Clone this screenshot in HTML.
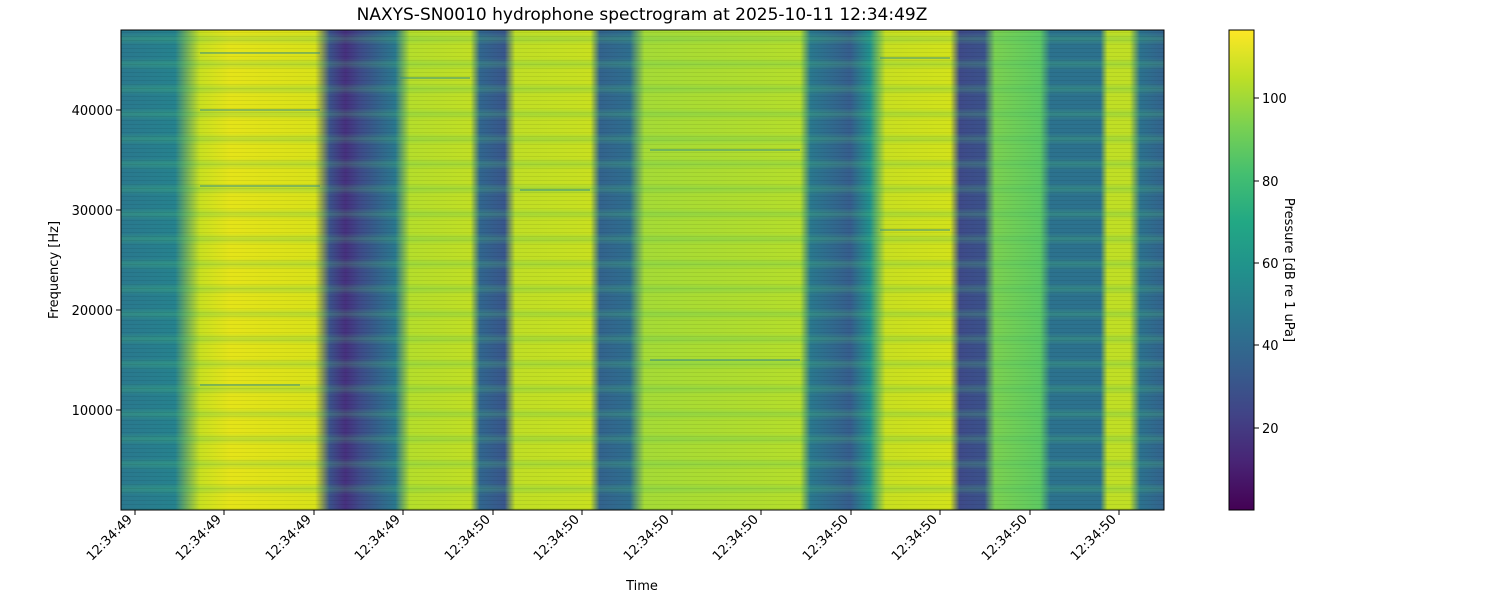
<!DOCTYPE html>
<html><head><meta charset="utf-8"><style>
body{margin:0;background:#fff;}
text{font-family:"DejaVu Sans","Liberation Sans",sans-serif;font-size:13px;fill:#000;}
</style></head><body>
<svg width="1500" height="600" xmlns="http://www.w3.org/2000/svg">
<defs>
<linearGradient id="g" gradientUnits="userSpaceOnUse" x1="121" y1="0" x2="1164" y2="0">
<stop offset="0" stop-color="#2a788e"/>
<stop offset=".052" stop-color="#26828e"/>
<stop offset=".076" stop-color="#c8e020"/>
<stop offset=".105" stop-color="#e5e419"/>
<stop offset=".186" stop-color="#d8e219"/>
<stop offset=".200" stop-color="#3b528b"/>
<stop offset=".215" stop-color="#46307e"/>
<stop offset=".229" stop-color="#3e4a89"/>
<stop offset=".263" stop-color="#2a788e"/>
<stop offset=".277" stop-color="#b5de2b"/>
<stop offset=".335" stop-color="#c0df25"/>
<stop offset=".344" stop-color="#31668e"/>
<stop offset=".368" stop-color="#39568c"/>
<stop offset=".378" stop-color="#c0df25"/>
<stop offset=".450" stop-color="#c8e020"/>
<stop offset=".459" stop-color="#33638d"/>
<stop offset=".488" stop-color="#2e6e8e"/>
<stop offset=".502" stop-color="#a5db36"/>
<stop offset=".651" stop-color="#b5de2b"/>
<stop offset=".661" stop-color="#2a788e"/>
<stop offset=".699" stop-color="#365d8d"/>
<stop offset=".718" stop-color="#21918c"/>
<stop offset=".733" stop-color="#c8e020"/>
<stop offset=".795" stop-color="#d2e21b"/>
<stop offset=".804" stop-color="#3e4a89"/>
<stop offset=".828" stop-color="#3b528b"/>
<stop offset=".838" stop-color="#7ad151"/>
<stop offset=".881" stop-color="#5ec962"/>
<stop offset=".891" stop-color="#2c728e"/>
<stop offset=".939" stop-color="#2c728e"/>
<stop offset=".946" stop-color="#c0df25"/>
<stop offset=".967" stop-color="#c0df25"/>
<stop offset=".977" stop-color="#2c728e"/>
<stop offset="1" stop-color="#33638d"/>
</linearGradient>
<linearGradient id="cb" x1="0" y1="1" x2="0" y2="0">
<stop offset="0" stop-color="#440154"/>
<stop offset=".1" stop-color="#482475"/>
<stop offset=".2" stop-color="#414487"/>
<stop offset=".3" stop-color="#355f8d"/>
<stop offset=".4" stop-color="#2a788e"/>
<stop offset=".5" stop-color="#21918c"/>
<stop offset=".6" stop-color="#22a884"/>
<stop offset=".7" stop-color="#44bf70"/>
<stop offset=".8" stop-color="#7ad151"/>
<stop offset=".9" stop-color="#bddf26"/>
<stop offset="1" stop-color="#fde725"/>
</linearGradient>
<linearGradient id="band" x1="0" y1="0" x2="0" y2="1">
<stop offset="0" stop-color="#4ec36b" stop-opacity="0"/>
<stop offset=".5" stop-color="#4ec36b" stop-opacity=".25"/>
<stop offset="1" stop-color="#4ec36b" stop-opacity="0"/>
</linearGradient>
<pattern id="bp" width="20" height="25" patternUnits="userSpaceOnUse">
<rect y="8" width="20" height="12" fill="url(#band)"/>
</pattern>
<pattern id="st" width="10" height="4" patternUnits="userSpaceOnUse">
<rect width="10" height="1" fill="#000" opacity=".07"/>
</pattern>
</defs>
<text x="642" y="20" text-anchor="middle" style="font-size:17px">NAXYS-SN0010 hydrophone spectrogram at 2025-10-11 12:34:49Z</text>
<rect x="121" y="30" width="1043" height="480" fill="url(#g)"/>
<rect x="121" y="30" width="1043" height="480" fill="url(#bp)"/>
<rect x="121" y="30" width="1043" height="480" fill="url(#st)"/>
<g stroke="#2c8a8c" stroke-width="2" opacity=".45">
<line x1="200" y1="53" x2="320" y2="53"/><line x1="200" y1="110" x2="320" y2="110"/>
<line x1="200" y1="186" x2="320" y2="186"/><line x1="200" y1="385" x2="300" y2="385"/>
<line x1="400" y1="78" x2="470" y2="78"/><line x1="520" y1="190" x2="590" y2="190"/>
<line x1="650" y1="150" x2="800" y2="150"/><line x1="650" y1="360" x2="800" y2="360"/>
<line x1="880" y1="58" x2="950" y2="58"/><line x1="880" y1="230" x2="950" y2="230"/>
</g>
<rect x="121" y="30" width="1043" height="480" fill="none" stroke="#000" stroke-width="1"/>
<g stroke="#000">
<line x1="116" y1="410" x2="121" y2="410"/><line x1="116" y1="310" x2="121" y2="310"/>
<line x1="116" y1="210" x2="121" y2="210"/><line x1="116" y1="110" x2="121" y2="110"/>
</g>
<g text-anchor="end">
<text x="113" y="415">10000</text><text x="113" y="315">20000</text>
<text x="113" y="215">30000</text><text x="113" y="115">40000</text>
</g>
<text transform="translate(58,270) rotate(-90)" text-anchor="middle">Frequency [Hz]</text>
<g stroke="#000">
<line x1="135" y1="510" x2="135" y2="515"/><line x1="224" y1="510" x2="224" y2="515"/>
<line x1="314" y1="510" x2="314" y2="515"/><line x1="403" y1="510" x2="403" y2="515"/>
<line x1="493" y1="510" x2="493" y2="515"/><line x1="582" y1="510" x2="582" y2="515"/>
<line x1="672" y1="510" x2="672" y2="515"/><line x1="761" y1="510" x2="761" y2="515"/>
<line x1="851" y1="510" x2="851" y2="515"/><line x1="940" y1="510" x2="940" y2="515"/>
<line x1="1030" y1="510" x2="1030" y2="515"/><line x1="1119" y1="510" x2="1119" y2="515"/>
</g>
<g text-anchor="end">
<text transform="translate(133,520) rotate(-45)">12:34:49</text>
<text transform="translate(222,520) rotate(-45)">12:34:49</text>
<text transform="translate(312,520) rotate(-45)">12:34:49</text>
<text transform="translate(401,520) rotate(-45)">12:34:49</text>
<text transform="translate(491,520) rotate(-45)">12:34:50</text>
<text transform="translate(580,520) rotate(-45)">12:34:50</text>
<text transform="translate(670,520) rotate(-45)">12:34:50</text>
<text transform="translate(759,520) rotate(-45)">12:34:50</text>
<text transform="translate(849,520) rotate(-45)">12:34:50</text>
<text transform="translate(938,520) rotate(-45)">12:34:50</text>
<text transform="translate(1028,520) rotate(-45)">12:34:50</text>
<text transform="translate(1117,520) rotate(-45)">12:34:50</text>
</g>
<text x="642" y="590" text-anchor="middle">Time</text>
<rect x="1229" y="30" width="25" height="480" fill="url(#cb)" stroke="#000" stroke-width="1"/>
<g stroke="#000">
<line x1="1254" y1="428" x2="1259" y2="428"/><line x1="1254" y1="345" x2="1259" y2="345"/>
<line x1="1254" y1="263" x2="1259" y2="263"/><line x1="1254" y1="181" x2="1259" y2="181"/>
<line x1="1254" y1="98" x2="1259" y2="98"/>
</g>
<text x="1262" y="433">20</text><text x="1262" y="350">40</text><text x="1262" y="268">60</text>
<text x="1262" y="186">80</text><text x="1262" y="103">100</text>
<text transform="translate(1285,270) rotate(90)" text-anchor="middle">Pressure [dB re 1 uPa]</text>
</svg>
</body></html>
